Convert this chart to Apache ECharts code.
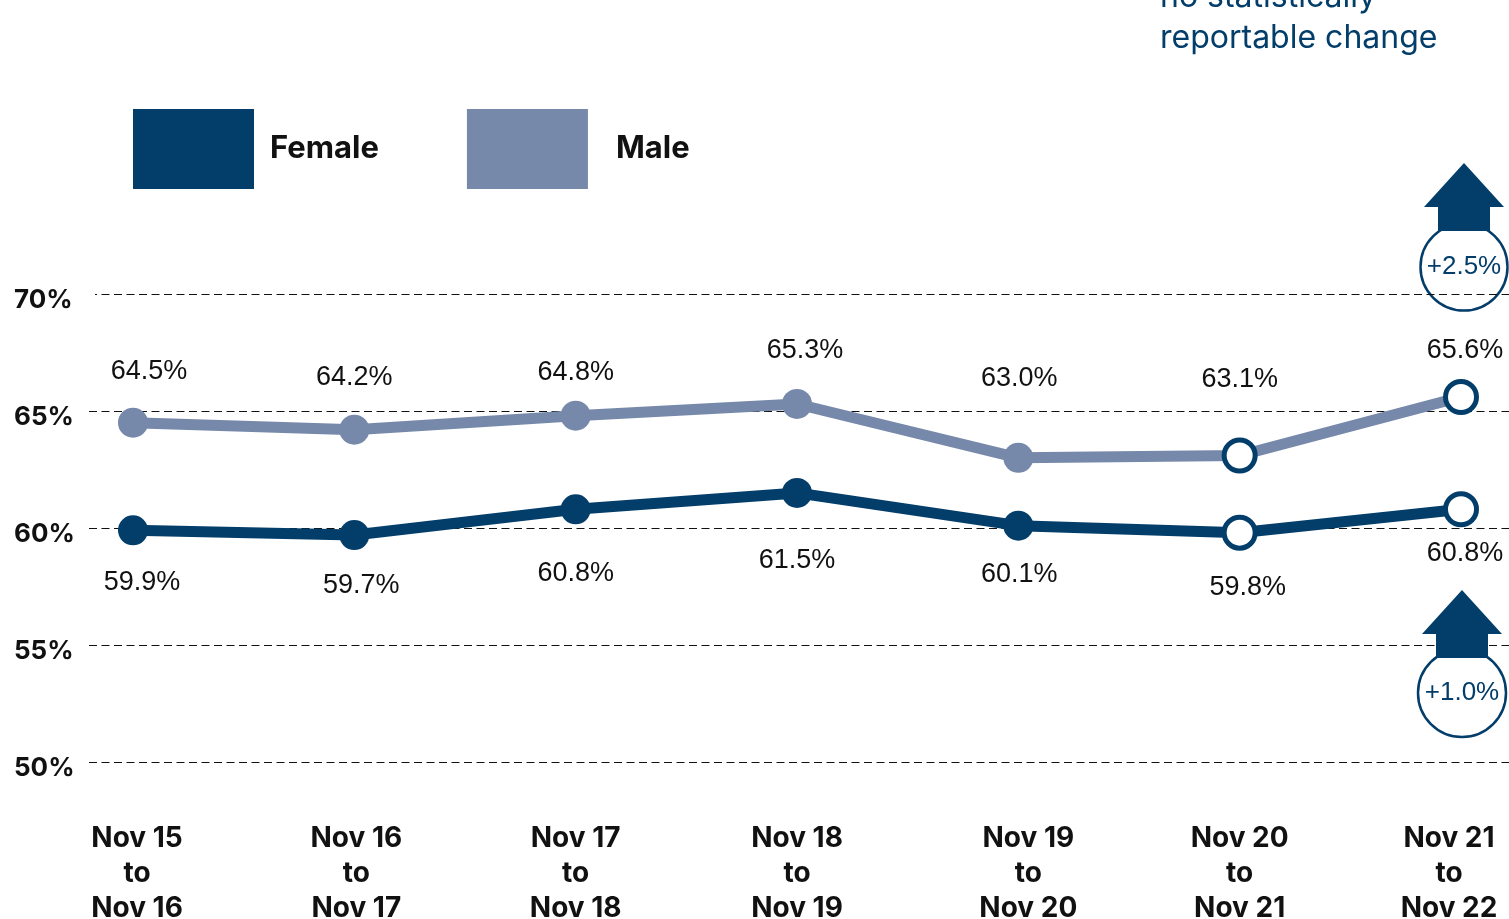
<!DOCTYPE html>
<html>
<head>
<meta charset="utf-8">
<title>Female and male rates</title>
<script src="https://cdn.jsdelivr.net/npm/echarts@6/dist/echarts.min.js"></script>
<style>
  html, body { margin: 0; padding: 0; background: #fff; overflow: hidden; }
  #main { width: 1509px; height: 919px; }
</style>
</head>
<body>
<div id="main"></div>
<script>
const startDays = ['Nov 15', 'Nov 16', 'Nov 17', 'Nov 18', 'Nov 19', 'Nov 20', 'Nov 21']
const endDays = ['Nov 16', 'Nov 17', 'Nov 18', 'Nov 19', 'Nov 20', 'Nov 21', 'Nov 22']
const femaleValues = [59.9, 59.7, 60.8, 61.5, 60.1, 59.8, 60.8]
const maleValues = [64.5, 64.2, 64.8, 65.3, 63.0, 63.1, 65.6]
// last two points are drawn hollow in the source
const hollowFrom = 5

// label nudges, the source has them placed by hand
const femaleLabelOffset = [[9, 52], [7, 51], [0, 64], [0, 68], [1, 49], [8, 55], [4, 44]]
const maleLabelOffset = [[16, -51], [0, -52], [0, -43], [8, -53], [1, -79], [0, -76], [4, -46]]
const xLabelShift = [4, 2, 0, 0, 10, 0, -12]

const navy = '#033e6b'
const slate = '#7789aa'
const font = 'Inter, "Noto Sans", sans-serif'
const numFont = '"Liberation Sans", Arial, sans-serif'

function buildPoints(values, offsets, color) {
  return values.map((v, i) => {
    const hollow = i >= hollowFrom
    return {
      value: v,
      symbolSize: hollow ? 31 : 30,
      itemStyle: hollow
        ? {color: '#fff', borderColor: navy, borderWidth: 5}
        : {color: color},
      label: {offset: offsets[i]}
    }
  })
}

function lineSeries(name, values, offsets, color) {
  return {
    name: name,
    type: 'line',
    xAxisIndex: 1,
    yAxisIndex: 1,
    symbol: 'circle',
    showAllSymbol: true,
    lineStyle: {color: color, width: 11},
    itemStyle: {color: color},
    silent: true,
    data: buildPoints(values, offsets, color),
    label: {
      show: true,
      position: 'inside',
      color: '#111',
      fontFamily: numFont,
      fontSize: 27,
      formatter: p => p.value.toFixed(1) + '%'
    }
  }
}

// per category rich style so a label can sit off its point
const xRich = {}
xLabelShift.forEach((s, i) => {
  xRich['s' + i] = {
    fontFamily: font,
    fontSize: 28,
    fontWeight: 700,
    color: '#111',
    lineHeight: 35,
    padding: s > 0 ? [0, 0, 0, s * 2] : [0, -s * 2, 0, 0]
  }
})

function arrow(x, top) {
  return {
    type: 'polygon',
    z: 5,
    shape: {
      points: [[x, top], [x + 40, top + 44], [x + 26, top + 44], [x + 26, top + 68],
        [x - 26, top + 68], [x - 26, top + 44], [x - 40, top + 44]]
    },
    style: {fill: navy}
  }
}

function badge(x, y, r, text) {
  return {
    type: 'group',
    z: 6,
    children: [
      {type: 'circle', shape: {cx: x, cy: y, r: r}, style: {fill: '#fff', stroke: navy, lineWidth: 2.5}},
      {
        type: 'text',
        x: x,
        y: y,
        style: {
          text: text,
          fill: navy,
          font: '400 26px ' + numFont,
          align: 'center',
          verticalAlign: 'middle'
        }
      }
    ]
  }
}

function noteLine(y, text) {
  return {
    type: 'text',
    x: 1160,
    y: y,
    style: {text: text, fill: navy, font: '400 32px ' + font, verticalAlign: 'middle'}
  }
}

const option = {
  animation: false,
  backgroundColor: '#fff',
  legend: {
    left: 133,
    top: 109,
    padding: 0,
    itemWidth: 121,
    itemHeight: 80,
    itemGap: 88,
    icon: 'rect',
    data: [
      {name: 'Female', textStyle: {padding: [0, 0, 0, 11]}},
      {name: 'Male', textStyle: {padding: [0, 0, 0, 23]}}
    ],
    textStyle: {fontFamily: font, fontSize: 31, fontWeight: 700, color: '#111'}
  },
  grid: [
    // wide grid holds the dashed lines, inner one the points
    {left: 89, right: 0, top: 294, bottom: 157, outerBoundsMode: 'none'},
    {left: 133, right: 48, top: 294, bottom: 157, outerBoundsMode: 'none'}
  ],
  xAxis: [
    {gridIndex: 0, type: 'category', show: false, data: startDays},
    {
      gridIndex: 1,
      type: 'category',
      boundaryGap: false,
      data: startDays,
      axisLine: {show: false},
      axisTick: {show: false},
      axisLabel: {
        interval: 0,
        margin: 59,
        hideOverlap: false,
        showMinLabel: true,
        showMaxLabel: true,
        rich: xRich,
        formatter: (value, i) => {
          const key = 's' + i
          return `{${key}|${value}}\n{${key}|to}\n{${key}|${endDays[i]}}`
        }
      }
    }
  ],
  yAxis: [
    {
      gridIndex: 0,
      type: 'value',
      min: 50,
      max: 70,
      interval: 5,
      axisLine: {show: false},
      axisTick: {show: false},
      axisLabel: {
        align: 'left',
        margin: 75,
        verticalAlign: 'top',
        lineHeight: 12,
        color: '#111',
        fontFamily: font,
        fontSize: 26,
        fontWeight: 700,
        formatter: '{value}%'
      },
      splitLine: {
        show: true,
        lineStyle: {color: '#111', width: 1, type: [8, 4.5]}
      }
    },
    {gridIndex: 1, type: 'value', min: 50, max: 70, interval: 5, show: false, splitLine: {show: false}}
  ],
  graphic: [
    noteLine(-3, 'no statistically'),
    noteLine(38, 'reportable change'),
    // top dashed line starts a little later in the source
    {type: 'rect', z: 5, shape: {x: 86, y: 291, width: 9, height: 7}, style: {fill: '#fff'}},
    arrow(1464, 163),
    badge(1464, 267, 43.5, '+2.5%'),
    arrow(1462, 590),
    badge(1462, 693, 44, '+1.0%')
  ],
  series: [
    lineSeries('Male', maleValues, maleLabelOffset, slate),
    lineSeries('Female', femaleValues, femaleLabelOffset, navy)
  ]
}

const myChart = echarts.init(document.getElementById('main'), null, {renderer: 'canvas'})
myChart.setOption(option)
window.onresize = myChart.resize
</script>
</body>
</html>
